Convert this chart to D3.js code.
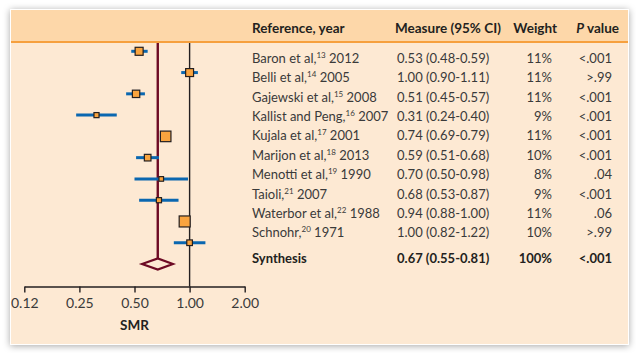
<!DOCTYPE html>
<html>
<head>
<meta charset="utf-8">
<script src="https://cdn.jsdelivr.net/npm/d3@7"></script>
<style>
  body { margin: 0; background: #fff; }
  svg { display: block; font-family: Lato, "Open Sans", sans-serif; }
</style>
</head>
<body>
<script>
var w = 636;
var h = 353;

// study rows
var authors = ["Baron et al,", "Belli et al,", "Gajewski et al,", "Kallist and Peng,", "Kujala et al,",
  "Marijon et al,", "Menotti et al,", "Taioli,", "Waterbor et al,", "Schnohr,"];
var refNums = ["13", "14", "15", "16", "17", "18", "19", "21", "22", "20"];
var years = ["2012", "2005", "2008", "2007", "2001", "2013", "1990", "2007", "1988", "1971"];
var smr = [0.53, 1.00, 0.51, 0.31, 0.74, 0.59, 0.70, 0.68, 0.94, 1.00];
var ciLow = [0.48, 0.90, 0.45, 0.24, 0.69, 0.51, 0.50, 0.53, 0.88, 0.82];
var ciHigh = [0.59, 1.11, 0.57, 0.40, 0.79, 0.68, 0.98, 0.87, 1.00, 1.22];
var weights = ["11%", "11%", "11%", "9%", "11%", "10%", "8%", "9%", "11%", "10%"];
var pValues = ["<.001", ">.99", "<.001", "<.001", "<.001", "<.001", ".04", "<.001", ".06", ">.99"];

// pooled estimate
var synth = { est: 0.67, lo: 0.55, hi: 0.81, weight: "100%", p: "<.001" };

var tickVals = [0.125, 0.25, 0.5, 1, 2];
var tickLabels = ["0.12", "0.25", "0.50", "1.00", "2.00"];

var studies = authors.map(function(a, i) {
  var se = (Math.log(ciHigh[i]) - Math.log(ciLow[i])) / (2 * 1.96);
  return { author: a, ref: refNums[i], year: years[i], est: smr[i], lo: ciLow[i], hi: ciHigh[i],
    weight: weights[i], p: pValues[i], prec: 1 / (se * se) };
});

var svg = d3.select("body").append("svg").attr("width", w).attr("height", h);

var defs = svg.append("defs");
var f = defs.append("filter").attr("id", "shadow")
  .attr("x", "-10%").attr("y", "-10%").attr("width", "120%").attr("height", "120%");
f.append("feDropShadow").attr("dx", 0).attr("dy", 1).attr("stdDeviation", 3.5)
  .attr("flood-color", "#000").attr("flood-opacity", 0.35);

// panel
var panel = { x: 11, y: 10, w: 617, h: 334 };
svg.append("rect")
  .attr("x", panel.x - 1).attr("y", panel.y - 1)
  .attr("width", panel.w + 2).attr("height", panel.h + 2)
  .attr("fill", "#fff").attr("filter", "url(#shadow)");
svg.append("rect")
  .attr("x", panel.x).attr("y", panel.y)
  .attr("width", panel.w).attr("height", panel.h)
  .attr("fill", "#fde9d3");
svg.append("rect")
  .attr("x", panel.x).attr("y", panel.y)
  .attr("width", panel.w).attr("height", 31)
  .attr("fill", "#fdd7a9");
svg.append("rect")
  .attr("x", panel.x).attr("y", 41)
  .attr("width", panel.w).attr("height", 2)
  .attr("fill", "#f6a03e");

// scales
var x = d3.scaleLog().base(2).domain([0.125, 2]).range([24.3, 244.7]);
var y = d3.scalePoint().domain(d3.range(11)).range([51.3, 264]);
var textY = d3.scaleLinear().domain([0, 9]).range([62.7, 237.3]);
var size = d3.scaleSqrt().domain([30, 940]).range([4.5, 11]);

var axisY = 286.5;

// reference line at 1
svg.append("line")
  .attr("x1", x(1)).attr("x2", x(1))
  .attr("y1", 43).attr("y2", axisY)
  .attr("stroke", "#231f20").attr("stroke-width", 1.4);

// pooled estimate line
svg.append("line")
  .attr("x1", x(synth.est)).attr("x2", x(synth.est))
  .attr("y1", 43).attr("y2", y(10) - 5.5)
  .attr("stroke", "#6d0a24").attr("stroke-width", 2.4);

// CI bars
svg.selectAll(".ci").data(studies).enter().append("line")
  .attr("class", "ci")
  .attr("x1", function(d) { return x(d.lo); })
  .attr("x2", function(d) { return x(d.hi); })
  .attr("y1", function(d, i) { return y(i); })
  .attr("y2", function(d, i) { return y(i); })
  .attr("stroke", "#0a67b0").attr("stroke-width", 3);

// point estimates
svg.selectAll(".pt").data(studies).enter().append("rect")
  .attr("class", "pt")
  .attr("x", function(d) { return x(d.est) - size(d.prec) / 2; })
  .attr("y", function(d, i) { return y(i) - size(d.prec) / 2; })
  .attr("width", function(d) { return size(d.prec); })
  .attr("height", function(d) { return size(d.prec); })
  .attr("fill", "#f9a43f").attr("stroke", "#231f20").attr("stroke-width", 1.2);

// diamond
var yc = y(10);
svg.append("path")
  .attr("d", "M" + x(synth.lo) + "," + yc + "L" + x(synth.est) + "," + (yc - 5.5) +
    "L" + x(synth.hi) + "," + yc + "L" + x(synth.est) + "," + (yc + 5.5) + "Z")
  .attr("fill", "none").attr("stroke", "#6d0a24").attr("stroke-width", 2.2)
  .attr("stroke-linejoin", "miter");

// axis
var axis = d3.axisBottom(x)
  .tickValues(tickVals)
  .tickFormat(function(d, i) { return tickLabels[i]; })
  .tickSize(6).tickSizeOuter(0).tickPadding(6);
var gAxis = svg.append("g").attr("transform", "translate(0," + axisY + ")").call(axis);
gAxis.select(".domain").attr("stroke", "#231f20").attr("stroke-width", 1.4);
gAxis.selectAll(".tick line").attr("stroke", "#231f20").attr("stroke-width", 1.4);
gAxis.selectAll(".tick text").attr("fill", "#3a3a3a")
  .style("font-size", "14px").style("font-family", "Lato, sans-serif");

svg.append("text")
  .attr("x", x(0.5)).attr("y", 330)
  .attr("text-anchor", "middle")
  .attr("font-size", 13.5).attr("font-weight", "bold").attr("fill", "#231f20")
  .text("SMR");

// header
var colRef = 252, colMeasure = 397, colWeight = 552, colP = 612;
var head = svg.append("g").attr("font-size", 13.5).attr("font-weight", "bold").attr("fill", "#231f20");
head.append("text").attr("x", colRef).attr("y", 32.5).text("Reference, year");
head.append("text").attr("x", 395).attr("y", 32.5).text("Measure (95% CI)");
head.append("text").attr("x", 557).attr("y", 32.5).attr("text-anchor", "end").text("Weight");
var pHead = head.append("text").attr("x", 619).attr("y", 32.5).attr("text-anchor", "end");
pHead.append("tspan").attr("font-style", "italic").text("P");
pHead.append("tspan").text(" value");

// study rows text
var rows = svg.selectAll(".row").data(studies).enter().append("g")
  .attr("class", "row")
  .attr("font-size", 13).attr("fill", "#3a3a3a")
  .attr("transform", function(d, i) { return "translate(0," + textY(i) + ")"; });

var refText = rows.append("text").attr("x", colRef);
refText.append("tspan").text(function(d) { return d.author; });
refText.append("tspan").attr("dy", -5).attr("font-size", 8).text(function(d) { return d.ref; });
refText.append("tspan").attr("dy", 5).text(function(d) { return " " + d.year; });

rows.append("text").attr("x", colMeasure)
  .text(function(d) { return d3.format(".2f")(d.est) + " (" + d3.format(".2f")(d.lo) + "-" + d3.format(".2f")(d.hi) + ")"; });
rows.append("text").attr("x", colWeight).attr("text-anchor", "end").text(function(d) { return d.weight; });
rows.append("text").attr("x", colP).attr("text-anchor", "end").text(function(d) { return d.p; });

// synthesis row
var sRow = svg.append("g").attr("font-size", 13).attr("font-weight", "bold").attr("fill", "#231f20")
  .attr("transform", "translate(0,263.3)");
sRow.append("text").attr("x", colRef).text("Synthesis");
sRow.append("text").attr("x", colMeasure)
  .text(d3.format(".2f")(synth.est) + " (" + d3.format(".2f")(synth.lo) + "-" + d3.format(".2f")(synth.hi) + ")");
sRow.append("text").attr("x", colWeight).attr("text-anchor", "end").text(synth.weight);
sRow.append("text").attr("x", colP).attr("text-anchor", "end").text(synth.p);
</script>
</body>
</html>
